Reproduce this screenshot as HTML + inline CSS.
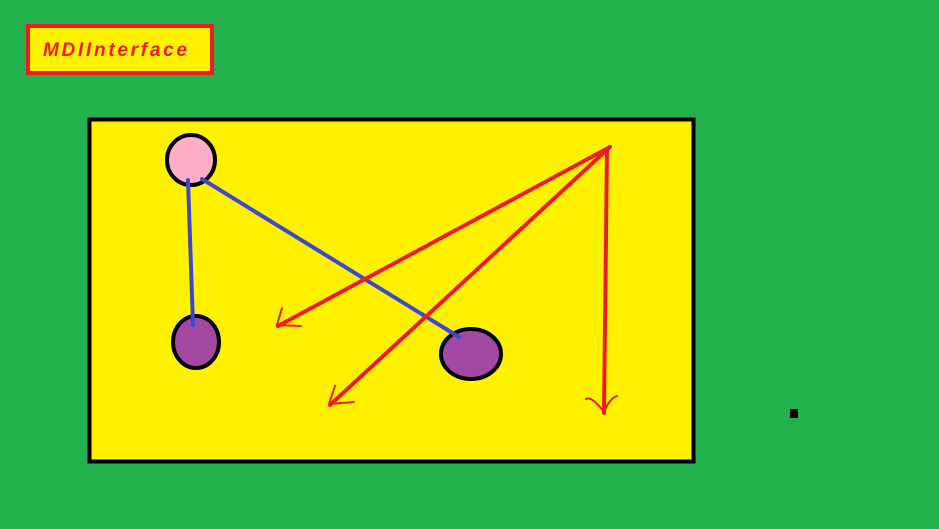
<!DOCTYPE html>
<html><head><meta charset="utf-8"><style>
html,body{margin:0;padding:0;background:#22b14c;width:939px;height:529px;overflow:hidden}
svg{display:block}
</style></head><body>
<svg width="939" height="529" viewBox="0 0 939 529">
<rect x="0" y="0" width="939" height="529" fill="#22b14c"/>
<rect x="28" y="26" width="184" height="47" fill="#fff200" stroke="#ed1c24" stroke-width="4"/>
<text x="43" y="56" font-family="'Comic Sans MS','Liberation Sans',sans-serif" font-style="italic" font-weight="bold" font-size="19" fill="#ed1c24" textLength="144" lengthAdjust="spacing">MDIInterface</text>
<rect x="89.5" y="119.5" width="604" height="342" fill="#fff200" stroke="#000" stroke-width="4"/>
<ellipse cx="191" cy="160" rx="24" ry="25" fill="#ffaec9" stroke="#000" stroke-width="4"/>
<ellipse cx="196" cy="342" rx="23" ry="26" fill="#a349a4" stroke="#000" stroke-width="4"/>
<ellipse cx="471" cy="354" rx="30" ry="25" fill="#a349a4" stroke="#000" stroke-width="4"/>
<g stroke="#3f48cc" stroke-width="4" stroke-linecap="round">
<line x1="188" y1="180" x2="193" y2="325"/>
<line x1="202" y1="179" x2="459" y2="337"/>
</g>
<g stroke="#ed1c24" stroke-width="4" stroke-linecap="round" fill="none">
<line x1="610" y1="147" x2="278" y2="326"/>
<path d="M282 308 L277 325 L301 326" stroke-width="2"/>
<line x1="610" y1="147" x2="330" y2="405"/>
<path d="M335 386 L329 404 L354 402" stroke-width="2"/>
<line x1="607" y1="149" x2="604" y2="413"/>
<path d="M586 399 Q592 396 604 412 Q610 398 617 396" stroke-width="2"/>
</g>
<rect x="790" y="409" width="8" height="9" fill="#000"/>
</svg>
</body></html>
